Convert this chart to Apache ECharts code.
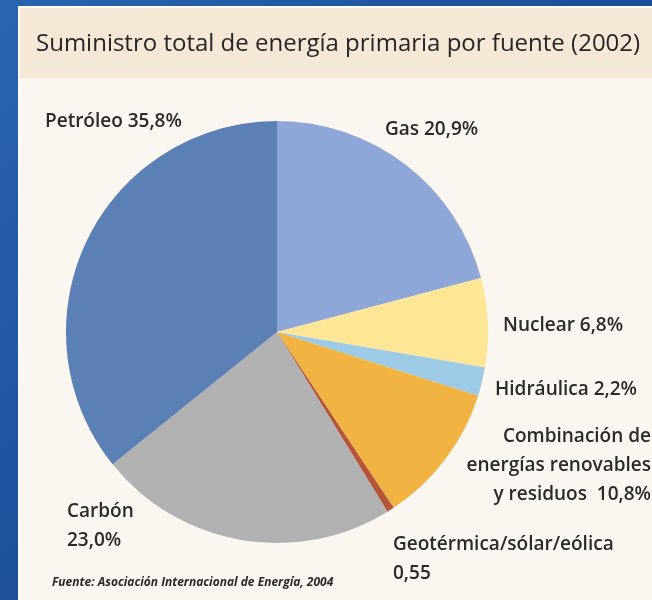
<!DOCTYPE html>
<html>
<head>
<meta charset="utf-8">
<script src="https://cdn.jsdelivr.net/npm/echarts@6/dist/echarts.min.js"></script>
<style>
  html, body { margin: 0; padding: 0; background: #1d5aa6; }
  #chart { width: 652px; height: 600px; }
</style>
</head>
<body>
<div id="chart"></div>
<script>
// datos
var titleText = 'Suministro total de energía primaria por fuente (2002)';
var sourceText = 'Fuente: Asociación Internacional de Energía, 2004';
var categories = ['Gas', 'Nuclear', 'Hidráulica', 'Combinación de\nenergías renovables\ny residuos', 'Geotérmica/sólar/eólica', 'Carbón', 'Petróleo'];
var shares = [20.9, 6.8, 2.2, 10.8, 0.55, 23.0, 35.8];
var shareLabels = ['20,9%', '6,8%', '2,2%', '10,8%', '0,55', '23,0%', '35,8%'];

var colors = ['#8ea6d8', '#fde796', '#9dcbe6', '#f1b443', '#b4553a', '#b1b1b1', '#5a80b5'];

// donde va cada etiqueta
var labelPlaces = [
    {x: 385, y: 115, align: 'left', sep: ' '},
    {x: 503, y: 311, align: 'left', sep: ' '},
    {x: 495, y: 375, align: 'left', sep: ' '},
    {x: 651, y: 422, align: 'right', sep: '  '},
    {x: 393, y: 530, align: 'left', sep: '\n'},
    {x: 67, y: 497, align: 'left', sep: '\n'},
    {x: 45, y: 107, align: 'left', sep: ' '}
];

var myChart = echarts.init(document.getElementById('chart'));

var pieData = [];
for (var i = 0; i < categories.length; i++) {
    pieData.push({
        name: categories[i],
        value: shares[i],
        itemStyle: {color: colors[i]}
    });
}

var option = {
    backgroundColor: {
        type: 'linear', x: 0, y: 0, x2: 1, y2: 1,
        colorStops: [
            {offset: 0, color: '#2a64b0'},
            {offset: 0.5, color: '#1b4f9a'},
            {offset: 1, color: '#174586'}
        ]
    },
    graphic: [
        {
            type: 'rect',
            shape: {x: 19, y: 7, width: 640, height: 600},
            style: {fill: '#fbf6f0', stroke: '#ffffff', lineWidth: 2},
            z: 0
        },
        {
            type: 'rect',
            shape: {x: 20, y: 8, width: 640, height: 70},
            style: {fill: '#f5e8d6'},
            z: 0
        }
    ],
    title: [
        {
            text: titleText,
            left: 31,
            top: 27,
            textStyle: {
                fontFamily: 'Open Sans',
                fontSize: 24,
                fontWeight: 500,
                color: '#262626'
            }
        },
        {
            text: sourceText,
            left: 47,
            top: 572,
            textStyle: {
                fontFamily: 'Open Sans',
                fontSize: 12,
                fontStyle: 'italic',
                fontWeight: 'bold',
                color: '#2a2a2a'
            }
        }
    ],
    series: [{
        type: 'pie',
        center: [277, 332],
        radius: 211,
        startAngle: 90,
        clockwise: true,
        silent: true,
        data: pieData,
        itemStyle: {borderWidth: 0},
        labelLine: {show: false},
        label: {
            show: true,
            position: 'outside',
            overflow: 'none',
            fontFamily: 'Open Sans',
            fontSize: 19,
            fontWeight: 600,
            lineHeight: 29,
            color: '#2a2a2a',
            formatter: function (p) {
                return p.name + labelPlaces[p.dataIndex].sep + shareLabels[p.dataIndex];
            }
        },
        labelLayout: function (params) {
            var place = labelPlaces[params.dataIndex];
            return {
                x: place.x,
                y: place.y,
                align: place.align,
                verticalAlign: 'top',
                hideOverlap: false
            };
        }
    }]
};

myChart.setOption(option);
</script>
</body>
</html>
